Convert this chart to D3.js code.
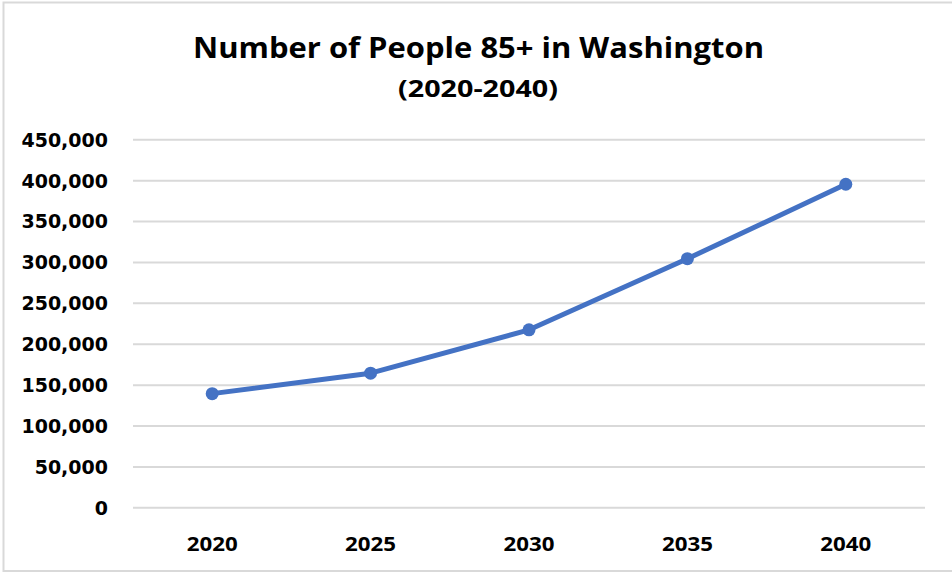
<!DOCTYPE html>
<html><head><meta charset="utf-8">
<script src="https://cdn.jsdelivr.net/npm/d3@7"></script>
<style>body{margin:0;background:#fff}svg{display:block}text{font-family:"Open Sans","Liberation Sans",sans-serif}</style>
</head><body>
<script>
const years = ["2020","2025","2030","2035","2040"];
const people = [139000, 164000, 217000, 304000, 395000];
const yTicks = [0,50000,100000,150000,200000,250000,300000,350000,400000,450000];
const title = "Number of People 85+ in Washington";
const subtitle = "(2020-2040)";

(function(){
const W = 952, H = 573;
const svg = d3.select("body").append("svg").attr("width", W).attr("height", H);
svg.append("rect").attr("x",0).attr("y",0).attr("width",W).attr("height",H).attr("fill","#fff");
svg.append("path").attr("d",`M${W+5},2.5 H3.5 V571 H${W+5}`).attr("fill","none").attr("stroke","#d9d9d9").attr("stroke-width",2);

const pLeft = 133, pRight = 925, pTop = 139.3, pBottom = 507.3;
const x = d3.scaleBand().domain(years).range([pLeft, pRight]);
const y = d3.scaleLinear().domain([0, 450000]).range([pBottom, pTop]);

svg.append("text").attr("x",478.5).attr("y",58).attr("text-anchor","middle")
  .attr("font-size",29).attr("font-weight",700).attr("fill","#000")
  .attr("textLength",571).attr("lengthAdjust","spacingAndGlyphs").text(title);
svg.append("text").attr("x",478).attr("y",97).attr("text-anchor","middle")
  .attr("font-size",23).attr("font-weight",700).attr("fill","#000")
  .attr("textLength",160).attr("lengthAdjust","spacingAndGlyphs").text(subtitle);

const yAxis = d3.axisLeft(y).tickValues(yTicks).tickSize(-(pRight-pLeft)).tickPadding(25)
  .tickFormat(d3.format(","));
const gy = svg.append("g").attr("transform",`translate(${pLeft},0)`).call(yAxis);
gy.select(".domain").remove();
gy.selectAll(".tick line").attr("stroke","#d9d9d9").attr("stroke-width",2);
gy.selectAll(".tick text").style("font-family","'DejaVu Sans',sans-serif").attr("font-size",19).attr("font-weight",700).attr("fill","#000").attr("dy","0.36em");

const xAxis = d3.axisBottom(x).tickSize(0).tickPadding(30);
const gx = svg.append("g").attr("transform",`translate(0,${pBottom})`).call(xAxis);
gx.select(".domain").remove();
gx.selectAll(".tick text").attr("font-size",19).attr("font-weight",700).attr("fill","#000")
  .attr("textLength",51).attr("lengthAdjust","spacingAndGlyphs");

const cx = d => x(d) + x.bandwidth()/2;
const line = d3.line().x((d,i)=>cx(years[i])).y(d=>y(d));
svg.append("path").datum(people).attr("d",line).attr("fill","none")
  .attr("stroke","#4472C4").attr("stroke-width",5).attr("stroke-linejoin","round");
svg.selectAll("circle.pt").data(people).enter().append("circle").attr("class","pt")
  .attr("cx",(d,i)=>cx(years[i])).attr("cy",d=>y(d)).attr("r",6.5).attr("fill","#4472C4");
})();
</script>
</body></html>
